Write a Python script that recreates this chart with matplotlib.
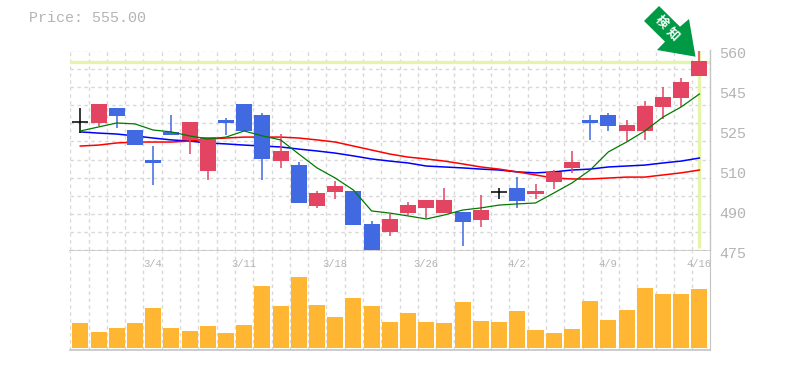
import numpy as np
import matplotlib
matplotlib.use("Agg")
import matplotlib.pyplot as plt
from matplotlib.patches import Polygon
from matplotlib.transforms import ScaledTranslation

# candles, 35 trading days
opens = [529.5, 529.2, 535.6, 526.2, 513.5, 525.4, 522.0, 508.8, 530.5, 537.3, 532.6, 513.0,
         511.3, 493.9, 499.9, 500.3, 486.3, 482.9, 490.9, 493.1, 490.9, 491.4, 488.0, 499.9,
         501.6, 499.0, 504.1, 510.1, 530.5, 532.6, 525.8, 525.8, 536.0, 539.8, 549.2]
closes = [529.5, 537.3, 532.2, 519.8, 512.2, 524.1, 529.6, 523.2, 529.2, 525.8, 513.9, 517.3,
          495.2, 499.4, 502.4, 485.8, 475.0, 488.4, 494.3, 496.5, 496.5, 487.1, 492.2, 499.9,
          496.0, 500.3, 508.4, 512.6, 529.2, 527.9, 528.3, 536.4, 540.2, 546.6, 555.5]
highs = [535.5, 537.3, 535.6, 526.2, 519.4, 532.6, 529.6, 523.2, 531.3, 537.3, 533.4, 524.5,
         512.6, 500.3, 504.5, 500.3, 487.5, 490.5, 495.6, 496.5, 501.6, 491.4, 498.6, 501.6,
         506.2, 503.3, 509.2, 517.3, 532.6, 533.4, 530.5, 538.5, 544.5, 548.3, 560.2]
lows = [525.0, 527.9, 527.1, 519.8, 502.8, 524.1, 516.0, 505.0, 524.1, 525.8, 505.0, 510.1,
        495.2, 493.1, 496.9, 485.8, 475.0, 481.2, 490.1, 488.8, 490.9, 476.9, 485.0, 496.9,
        493.1, 496.9, 501.1, 507.9, 522.0, 525.8, 521.5, 522.0, 530.9, 536.0, 549.2]

ma_short = [525.8, 527.5, 529.2, 528.8, 526.2, 525.4, 523.7, 522.4, 523.2, 525.8, 523.7, 522.0,
            516.0, 510.1, 505.8, 500.7, 491.8, 490.9, 489.7, 488.4, 490.1, 492.2, 493.1, 494.3,
            494.8, 495.2, 499.4, 503.7, 509.2, 516.9, 521.1, 525.8, 531.7, 536.0, 541.5]
ma_mid = [525.4, 524.9, 524.5, 523.7, 522.8, 522.0, 521.5, 520.7, 520.3, 519.8, 519.4, 519.0,
          518.1, 517.3, 516.4, 515.2, 513.9, 513.0, 512.2, 510.9, 510.5, 510.1, 509.6, 509.2,
          508.4, 508.0, 508.4, 509.2, 509.6, 510.5, 510.9, 511.3, 512.2, 513.0, 514.3]
ma_long = [519.4, 519.8, 520.7, 521.1, 521.1, 521.1, 521.5, 522.4, 522.8, 523.2, 523.2, 523.2,
           522.8, 522.0, 521.1, 519.4, 517.7, 516.0, 514.7, 513.9, 513.0, 511.8, 510.5, 509.6,
           508.4, 507.1, 505.8, 505.4, 505.4, 505.8, 506.2, 506.2, 507.1, 508.0, 509.2]

volume = [25, 16, 20, 25, 40, 20, 17, 22, 15, 23, 62, 42, 71, 43, 31, 50, 42, 26,
          35, 26, 25, 46, 27, 26, 37, 18, 15, 19, 47, 28, 38, 60, 54, 54, 59]

date_idx = [4, 9, 14, 19, 24, 29, 34]
date_labels = ["3/4", "3/11", "3/18", "3/26", "4/2", "4/9", "4/16"]
price_labels = ["475", "490", "510", "525", "545", "560"]
current_price = 555.00

RED = "#e24462"
BLUE = "#4169e1"
ORANGE = "#ffb733"
GRID = "#d8d8d8"
AXIS = "#c4c4c4"
TEXT = "#b4b4b4"
HILITE = "#e4f4a8"
ARROW = "#009a44"
W, H = 785, 370
MONO = "Liberation Mono"

fig = plt.figure(figsize=(W / 100, H / 100), dpi=100)
left, right = 70.3, 710.3
ax = fig.add_axes([left / W, 1 - 250.5 / H, (right - left) / W, 200 / H])
vol = fig.add_axes([left / W, 1 - 350.3 / H, (right - left) / W, 99.8 / H])

x = np.arange(len(opens))
xlim = (-0.55, 34.6)
grid_x = np.arange(xlim[0], xlim[1] + 0.01, 640 / 35 / 18.2)

ax.set_xlim(xlim)
ax.set_ylim(475, 560)
ax.vlines(grid_x, 475, 560, color=GRID, lw=1, ls=(0, (2.5, 2.5)), zorder=1)
ax.hlines(np.linspace(475, 560, 12), *xlim, color=GRID, lw=1, ls=(0, (2.5, 2.5)), zorder=1)

ax.axhline(current_price, color=HILITE, lw=2.4, zorder=2)
ax.plot([x[-1], x[-1]], [476, 560], color=HILITE, lw=2.4, zorder=2, solid_capstyle="butt")

for i in x:
    o, c = opens[i], closes[i]
    if o == c:
        col = "black"
    elif c > o:
        col = RED
    else:
        col = BLUE
    ax.vlines(i, lows[i], highs[i], color=col, lw=1.1, zorder=4)
    if o == c:
        ax.hlines(o, i - 0.44, i + 0.44, color=col, lw=1.1, zorder=4)
    else:
        ax.bar(i, abs(c - o), bottom=min(o, c), width=0.88, color=col, lw=0, zorder=4)

ax.plot(x, ma_short, color="#007a00", lw=0.9, zorder=5)
ax.plot(x, ma_mid, color="#0000ff", lw=1.1, zorder=3)
ax.plot(x, ma_long, color="#ff0000", lw=1.1, zorder=3)

ax.set_xticks([])
ax.yaxis.tick_right()
ax.set_yticks(np.linspace(475, 560, 6))
ax.set_yticklabels(price_labels, family=MONO, fontsize=15 * 0.72, color=TEXT)
ax.tick_params(axis="y", length=0, pad=6.5)
# labels sit a bit under their row
shift = ScaledTranslation(0, -2.5 / 100, fig.dpi_scale_trans)
for lab in ax.get_yticklabels():
    lab.set_transform(lab.get_transform() + shift)
for s in ["top", "left"]:
    ax.spines[s].set_visible(False)
ax.spines["right"].set_color(AXIS)
ax.spines["bottom"].set_color(AXIS)
ax.spines["right"].set_linewidth(1)
ax.spines["bottom"].set_linewidth(1.1)

vol.set_xlim(xlim)
vol.set_ylim(-2, 97.8)
vol.vlines(grid_x, -2, 97.8, color=GRID, lw=1, ls=(0, (2.5, 2.5)), zorder=1)
vol.bar(x, volume, width=0.88, color=ORANGE, lw=0, zorder=3)
vol.set_yticks([])
vol.xaxis.tick_top()
vol.set_xticks(date_idx)
vol.set_xticklabels(date_labels, family=MONO, fontsize=10.5 * 0.72, color=TEXT)
vol.tick_params(axis="x", length=0, pad=-13)
for s in ["top", "left"]:
    vol.spines[s].set_visible(False)
vol.spines["right"].set_color(AXIS)
vol.spines["bottom"].set_color(AXIS)
vol.spines["bottom"].set_linewidth(1.2)

fig.text(29 / W, 1 - 18 / H, "Price: %.2f" % current_price, family=MONO, fontsize=15 * 0.72,
         color=TEXT, va="center", ha="left")

# green signal arrow, in figure pixels
pts = [(659, 6), (644, 21), (665, 41.7), (657, 50), (695.5, 56.7), (689, 19), (680, 26.7)]
fig.add_artist(Polygon([(px / W, 1 - py / H) for px, py in pts], closed=True, color=ARROW, lw=0,
                       transform=fig.transFigure, zorder=10))
for ch, cx, cy in [("検", 661, 22), ("知", 673, 34)]:
    fig.text(cx / W, 1 - cy / H, ch, family=["Noto Sans CJK JP", "DejaVu Sans"], fontsize=9,
             fontweight="bold", color="white", rotation=-45, ha="center", va="center",
             rotation_mode="anchor", zorder=11)

fig.savefig("out.png", dpi=100)
